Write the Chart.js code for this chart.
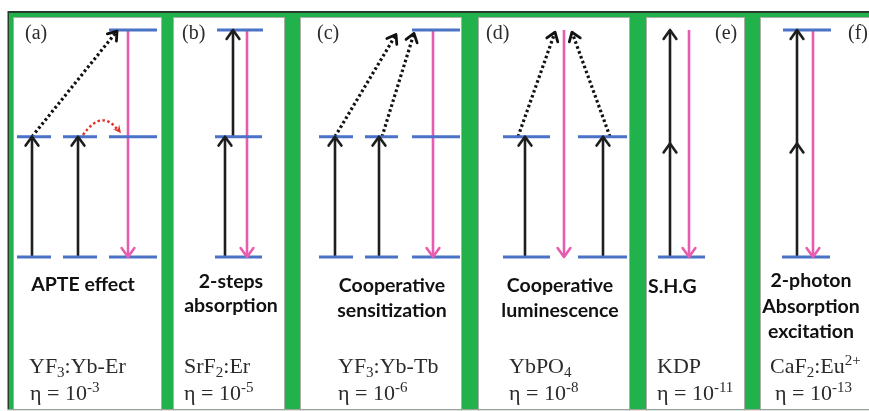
<!DOCTYPE html>
<html>
<head>
<meta charset="utf-8">
<script src="https://cdn.jsdelivr.net/npm/chart.js@4/dist/chart.umd.min.js"></script>
<style>
  html, body { margin: 0; padding: 0; background: #ffffff; }
  #wrap { width: 869px; height: 411px; }
</style>
</head>
<body>
<div id="wrap"><canvas id="diagram" width="869" height="411"></canvas></div>
<script>
// Energy of the three levels used in every scheme (ground, intermediate, upper)
const ENERGY = { ground: 0, mid: 1.06, upper: 2 };
const G = ENERGY.ground, M = ENERGY.mid, U = ENERGY.upper;

const panelLabels = ['(a)', '(b)', '(c)', '(d)', '(e)', '(f)'];
const mechanisms = [
  ['APTE effect'],
  ['2-steps', 'absorption'],
  ['Cooperative', 'sensitization'],
  ['Cooperative', 'luminescence'],
  ['S.H.G'],
  ['2-photon', 'Absorption', 'excitation']
];
const materials = ['YF_{3}:Yb-Er', 'SrF_{2}:Er', 'YF_{3}:Yb-Tb', 'YbPO_{4}', 'KDP', 'CaF_{2}:Eu^{2+}'];
const efficiencyExponents = [-3, -5, -6, -8, -11, -13];

// Energy levels: [siteStart, siteEnd, energy]
const levels = [
  [17, 51, M], [63, 97, M], [109, 157, M], [109, 157, U], [17, 51, G], [63, 97, G], [109, 157, G],
  [217, 263, U], [215, 262, M], [215, 262, G],
  [319, 353, M], [365, 398, M], [412, 460, M], [412, 460, U], [319, 353, G], [365, 398, G], [412, 460, G],
  [503, 550, M], [578, 627, M], [503, 550, G], [578, 627, G],
  [658, 705, G],
  [783, 831, U], [782, 830, G]
];

// Photon absorption steps: [site, fromEnergy, toEnergy]
const pumps = [
  [32, G, M], [78, G, M],
  [225, G, M], [233, M, U],
  [335, G, M], [379, G, M],
  [525, G, M], [603, G, M],
  [670, G, 1.0], [670, 1.0, U],
  [797, G, 1.0], [797, 1.0, U]
];

// Emission: [site, fromEnergy, toEnergy]
const emissions = [
  [128, U, G], [247, U, G], [433, U, G], [564, U, G], [689, U, G], [813, U, G]
];

// Energy transfer (dotted): [site1, energy1, site2, energy2]
const transfers = [
  [32, M, 117, 1.99],
  [335, M, 396, 1.96], [382, M, 414, 1.97],
  [518, M, 555, 1.98], [610, M, 572, 1.98]
];

// Ion-to-ion transfer (red dotted arc): [site1, energy1, siteCtrl, energyCtrl, site2, energy2]
const relaxations = [
  [83, 1.075, 102, 1.31, 121, 1.09]
];

// ---- layout (pixels) ----
const PANELS = [[13, 162], [173, 285], [300, 462], [478, 630], [646, 745], [760, 872]];
const PANEL_TOP = 17, PANEL_BOTTOM = 409;
const LABEL_POS = [25, 182, 317, 486, 715, 848];
const MECH_POS = [
  { x: 83, align: 'center', y: [291] },
  { x: 231, align: 'center', y: [288, 312] },
  { x: 392, align: 'center', y: [292, 317] },
  { x: 560, align: 'center', y: [292, 317] },
  { x: 648, align: 'left', y: [293] },
  { x: 811, align: 'center', y: [287, 313, 338] }
];
const MAT_X = [29, 184, 338, 509, 657, 770];
const ETA_X = [30, 184, 338, 509, 657, 775];

const COLORS = {
  green: '#21b24b', frame: '#2a3b2c', level: '#4a72c6', pump: '#1e1e1e',
  emit: '#e75cb0', transfer: '#111111', relax: '#e2312b', text: '#2b2b2b', mech: '#111111'
};

function segmentsToPoints(list, toXY) {
  const pts = [];
  list.forEach(s => {
    const [a, b] = toXY(s);
    pts.push(a, b, { x: b.x, y: null });
  });
  return pts;
}

const levelData = segmentsToPoints(levels, s => [{ x: s[0], y: s[2] }, { x: s[1], y: s[2] }]);
const pumpData = segmentsToPoints(pumps, s => [{ x: s[0], y: s[1] }, { x: s[0], y: s[2] }]);
const emitData = segmentsToPoints(emissions, s => [{ x: s[0], y: s[1] }, { x: s[0], y: s[2] }]);
const transferData = segmentsToPoints(transfers, s => [{ x: s[0], y: s[1] }, { x: s[2], y: s[3] }]);

function chevron(ctx, x1, y1, x2, y2, color, width, len, ang) {
  const t = Math.atan2(y2 - y1, x2 - x1);
  ctx.save();
  ctx.strokeStyle = color;
  ctx.lineWidth = width;
  ctx.lineCap = 'round';
  ctx.lineJoin = 'round';
  ctx.setLineDash([]);
  ctx.beginPath();
  ctx.moveTo(x2 - len * Math.cos(t - ang), y2 - len * Math.sin(t - ang));
  ctx.lineTo(x2, y2);
  ctx.lineTo(x2 - len * Math.cos(t + ang), y2 - len * Math.sin(t + ang));
  ctx.stroke();
  ctx.restore();
}

function drawRich(ctx, str, x, y, size, family, weight, align, color) {
  const parts = [];
  const re = /(_\{[^}]*\}|\^\{[^}]*\})/g;
  let last = 0, m;
  while ((m = re.exec(str)) !== null) {
    if (m.index > last) parts.push({ t: str.slice(last, m.index), k: 'n' });
    parts.push({ t: m[0].slice(2, -1), k: m[0][0] === '_' ? 's' : 'p' });
    last = re.lastIndex;
  }
  if (last < str.length) parts.push({ t: str.slice(last), k: 'n' });
  const fontFor = k => `${weight} ${k === 'n' ? size : Math.round(size * 0.68)}px ${family}`;
  let total = 0;
  parts.forEach(p => { ctx.font = fontFor(p.k); p.w = ctx.measureText(p.t).width; total += p.w; });
  let cx = align === 'center' ? x - total / 2 : x;
  ctx.save();
  ctx.fillStyle = color;
  ctx.textBaseline = 'alphabetic';
  ctx.textAlign = 'left';
  parts.forEach(p => {
    ctx.font = fontFor(p.k);
    const dy = p.k === 's' ? size * 0.2 : p.k === 'p' ? -size * 0.38 : 0;
    ctx.fillText(p.t, cx, y + dy);
    cx += p.w;
  });
  ctx.restore();
}

const backdrop = {
  id: 'backdrop',
  beforeDraw(chart) {
    const ctx = chart.ctx;
    ctx.save();
    ctx.fillStyle = '#ffffff';
    ctx.fillRect(0, 0, chart.width, chart.height);
    ctx.fillStyle = COLORS.green;
    ctx.fillRect(8, 12, chart.width - 8, PANEL_BOTTOM - 12);
    ctx.fillStyle = COLORS.frame;
    ctx.fillRect(8, 11, chart.width - 8, 2);
    ctx.fillRect(7.5, 11, 1.5, PANEL_BOTTOM - 11);
    PANELS.forEach(([l, r]) => {
      ctx.fillStyle = '#ffffff';
      ctx.fillRect(l, PANEL_TOP, r - l, PANEL_BOTTOM - PANEL_TOP);
      ctx.strokeStyle = '#a9b0aa';
      ctx.lineWidth = 1;
      ctx.strokeRect(l + 0.5, PANEL_TOP + 0.5, r - l - 1, PANEL_BOTTOM - PANEL_TOP + 3);
    });
    ctx.fillStyle = '#9aa39c';
    ctx.fillRect(7.5, PANEL_BOTTOM, chart.width - 7.5, 1.5);
    ctx.fillStyle = '#f4f6f4';
    ctx.fillRect(0, PANEL_BOTTOM + 1.5, chart.width, chart.height - PANEL_BOTTOM);
    ctx.restore();
  }
};

const annotations = {
  id: 'annotations',
  afterDatasetsDraw(chart) {
    const ctx = chart.ctx;
    const X = v => chart.scales.x.getPixelForValue(v);
    const Y = v => chart.scales.y.getPixelForValue(v);
    pumps.forEach(s => chevron(ctx, X(s[0]), Y(s[1]), X(s[0]), Y(s[2]), COLORS.pump, 2.6, 11, 0.62));
    emissions.forEach(s => chevron(ctx, X(s[0]), Y(s[1]), X(s[0]), Y(s[2]), COLORS.emit, 2.6, 11, 0.62));
    transfers.forEach(s => chevron(ctx, X(s[0]), Y(s[1]), X(s[2]), Y(s[3]), COLORS.transfer, 2.8, 10, 0.62));
    relaxations.forEach(s => {
      const x1 = X(s[0]), y1 = Y(s[1]), cx = X(s[2]), cy = Y(s[3]), x2 = X(s[4]), y2 = Y(s[5]);
      ctx.save();
      ctx.strokeStyle = COLORS.relax;
      ctx.lineWidth = 2.4;
      ctx.setLineDash([2.5, 2.5]);
      ctx.beginPath();
      ctx.moveTo(x1, y1);
      ctx.quadraticCurveTo(cx, cy, x2 - 3, y2 - 3);
      ctx.stroke();
      ctx.setLineDash([]);
      const t = Math.atan2(y2 - cy, x2 - cx);
      ctx.fillStyle = COLORS.relax;
      ctx.beginPath();
      ctx.moveTo(x2, y2);
      ctx.lineTo(x2 - 9 * Math.cos(t - 0.45), y2 - 9 * Math.sin(t - 0.45));
      ctx.lineTo(x2 - 5 * Math.cos(t), y2 - 5 * Math.sin(t));
      ctx.lineTo(x2 - 9 * Math.cos(t + 0.45), y2 - 9 * Math.sin(t + 0.45));
      ctx.closePath();
      ctx.fill();
      ctx.restore();
    });

    // Text
    panelLabels.forEach((lab, i) =>
      drawRich(ctx, lab, LABEL_POS[i], 39, 20, '"Liberation Serif", serif', 'normal', 'left', COLORS.text));
    mechanisms.forEach((lines, i) => {
      const p = MECH_POS[i];
      lines.forEach((ln, j) =>
        drawRich(ctx, ln, p.x, p.y[j], 19.5, 'Lato, sans-serif', 'bold', p.align, COLORS.mech));
    });
    materials.forEach((mat, i) =>
      drawRich(ctx, mat, MAT_X[i], 373, 22, '"Liberation Serif", serif', 'normal', 'left', COLORS.text));
    efficiencyExponents.forEach((e, i) =>
      drawRich(ctx, 'η = 10^{' + e + '}', ETA_X[i], 400, 22, '"Liberation Serif", serif', 'normal', 'left', COLORS.text));
  }
};

const lineStyle = { showLine: true, pointRadius: 0, pointHoverRadius: 0, tension: 0, spanGaps: false, fill: false };

new Chart(document.getElementById('diagram'), {
  type: 'scatter',
  data: {
    datasets: [
      { ...lineStyle, label: 'levels', data: levelData, borderColor: COLORS.level, borderWidth: 3 },
      { ...lineStyle, label: 'absorption', data: pumpData, borderColor: COLORS.pump, borderWidth: 2.6 },
      { ...lineStyle, label: 'emission', data: emitData, borderColor: COLORS.emit, borderWidth: 2.6 },
      { ...lineStyle, label: 'transfer', data: transferData, borderColor: COLORS.transfer, borderWidth: 3.2, borderDash: [2.6, 2.6] }
    ]
  },
  options: {
    responsive: false,
    devicePixelRatio: 1,
    animation: false,
    layout: { padding: 0 },
    plugins: { legend: { display: false }, tooltip: { enabled: false } },
    scales: {
      x: { type: 'linear', min: 0, max: 869, display: false },
      y: { type: 'linear', min: -1.357, max: 2.264, display: false }
    }
  },
  plugins: [backdrop, annotations]
});
</script>
</body>
</html>
